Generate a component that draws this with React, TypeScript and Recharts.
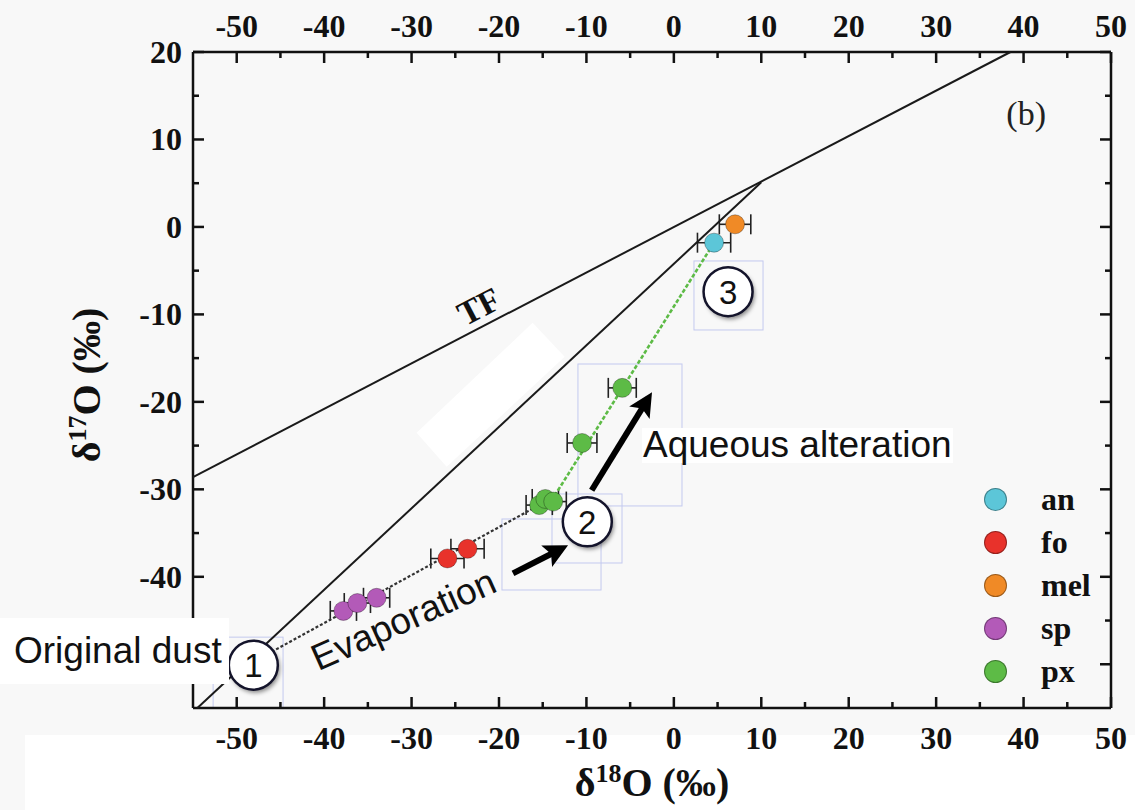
import {
  ScatterChart,
  Scatter,
  XAxis,
  YAxis,
  ErrorBar,
  ReferenceDot,
  ReferenceLine,
  Legend,
} from 'recharts';

// measured points (delta18O, delta17O, x error)
const anPts = [{ x: 4.6, y: -1.8, ex: 1.9 }];
const foPts = [
  { x: -25.9, y: -37.9, ex: 1.9 },
  { x: -23.6, y: -36.8, ex: 1.9 },
];
const melPts = [{ x: 7.0, y: 0.3, ex: 1.8 }];
const spPts = [
  { x: -37.8, y: -43.9, ex: 1.5 },
  { x: -36.2, y: -43.0, ex: 1.5 },
  { x: -34.0, y: -42.4, ex: 1.5 },
];
const pxPts = [
  { x: -15.4, y: -31.8, ex: 1.5 },
  { x: -14.7, y: -31.1, ex: 1.5 },
  { x: -13.8, y: -31.4, ex: 1.5 },
  { x: -10.5, y: -24.7, ex: 1.7 },
  { x: -5.9, y: -18.4, ex: 1.6 },
];

// reference lines and trends
const tfLine = [{ x: -55, y: -28.6 }, { x: 38.5, y: 20 }];
const ccamLine = [{ x: -54.5, y: -55 }, { x: 10, y: 5.1 }];
const evapTrend = [{ x: -47.5, y: -49.4 }, { x: -15.4, y: -31.8 }];
const alterTrend = [{ x: -14, y: -31.3 }, { x: 4.6, y: -1.8 }];

// annotation anchors
const evapArrow = [{ x: -18.4, y: -39.6 }, { x: -12.1, y: -36.4 }];
const alterArrow = [{ x: -9.4, y: -30.1 }, { x: -2.5, y: -18.9 }];
const stepBadges = [
  { n: '1', x: -48.1, y: -50.1 },
  { n: '2', x: -9.9, y: -33.7 },
  { n: '3', x: 6.2, y: -7.4 },
];

const xTicks = [-50, -45, -40, -35, -30, -25, -20, -15, -10, -5, 0, 5, 10, 15, 20, 25, 30, 35, 40, 45, 50];
const yTicks = [-50, -45, -40, -35, -30, -25, -20, -15, -10, -5, 0, 5, 10, 15, 20];

const legendNames = ['an', 'fo', 'mel', 'sp', 'px'];
const colors: Record<string, string> = {
  an: '#5cc6d8',
  fo: '#e8322b',
  mel: '#f08a26',
  sp: '#b35ab8',
  px: '#5dbb46',
};

const serif = '"Liberation Serif", "Times New Roman", serif';
const sans = '"Liberation Sans", Arial, sans-serif';
const ink = '#111';

type Side = 'top' | 'bottom' | 'left' | 'right';

function tickRenderer(side: Side) {
  return (props: any) => {
    const { x, y, payload } = props;
    const v = Number(payload.value);
    const major = v % 10 === 0;
    const len = major ? 11 : 6;
    let line;
    let label = null;
    const txt = { fontFamily: serif, fontWeight: 700, fontSize: 32, fill: ink };
    if (side === 'bottom') {
      line = <line x1={x} y1={y} x2={x} y2={y - len} />;
      if (major) label = <text x={x} y={y + 41} textAnchor="middle" {...txt}>{v}</text>;
    } else if (side === 'top') {
      line = <line x1={x} y1={y} x2={x} y2={y + len} />;
      if (major) label = <text x={x} y={y - 15} textAnchor="middle" {...txt}>{v}</text>;
    } else if (side === 'left') {
      line = <line x1={x} y1={y} x2={x + len} y2={y} />;
      // the -50 label sits under the "Original dust" box in the figure
      if (major && v !== -50) label = <text x={x - 11} y={y + 11} textAnchor="end" {...txt}>{v}</text>;
    } else {
      line = <line x1={x} y1={y} x2={x - len} y2={y} />;
    }
    return (
      <g>
        <g stroke={ink} strokeWidth={2.5}>{line}</g>
        {label}
      </g>
    );
  };
}

function YTitle(props: any) {
  const vb = props.viewBox || { x: 0, y: 52, width: 193, height: 656 };
  const x = vb.x + 100;
  const y = vb.y + vb.height / 2 + 5;
  return (
    <text
      x={x}
      y={y}
      transform={`rotate(-90, ${x}, ${y})`}
      textAnchor="middle"
      fontFamily={serif}
      fontWeight={700}
      fontSize={40}
      fill={ink}
    >
      <tspan>δ</tspan>
      <tspan dy={-14} fontSize={26}>17</tspan>
      <tspan dy={14}>O (‰)</tspan>
    </text>
  );
}

function XTitle(props: any) {
  const vb = props.viewBox || { x: 193, y: 708, width: 918, height: 102 };
  const x = vb.x + vb.width / 2;
  const y = vb.y + 88;
  return (
    <text x={x} y={y} textAnchor="middle" fontFamily={serif} fontWeight={700} fontSize={40} fill={ink}>
      <tspan>δ</tspan>
      <tspan dy={-14} fontSize={26}>18</tspan>
      <tspan dy={14}>O (‰)</tspan>
    </text>
  );
}

const dot = (fill: string) => (p: any) => (
  <circle cx={p.cx} cy={p.cy} r={9.5} fill={fill} stroke="rgba(0,0,0,0.3)" strokeWidth={1} />
);

const noDot = () => <g />;

function arrowShape(p: any) {
  const { x1, y1, x2, y2 } = p;
  const a = Math.atan2(y2 - y1, x2 - x1);
  const hl = 24;
  const hw = 12;
  const bx = x2 - hl * Math.cos(a);
  const by = y2 - hl * Math.sin(a);
  const nx = -Math.sin(a);
  const ny = Math.cos(a);
  const pts = `${x2},${y2} ${bx + nx * hw},${by + ny * hw} ${bx + 5 * Math.cos(a)},${by + 5 * Math.sin(a)} ${bx - nx * hw},${by - ny * hw}`;
  return (
    <g>
      <line x1={x1} y1={y1} x2={bx + 6 * Math.cos(a)} y2={by + 6 * Math.sin(a)} stroke="#000" strokeWidth={6} />
      <polygon points={pts} fill="#000" />
    </g>
  );
}

function badge(n: string) {
  return (p: any) => {
    const { cx, cy } = p;
    return (
      <g>
        <circle cx={cx + 2} cy={cy + 3} r={24.5} fill="rgba(0,0,0,0.45)" style={{ filter: 'blur(2px)' }} />
        <circle cx={cx} cy={cy} r={24.5} fill="#fff" stroke="#14142b" strokeWidth={2.5} />
        <text x={cx} y={cy + 12} textAnchor="middle" fontFamily={sans} fontSize={33} fill={ink}>
          {n}
        </text>
      </g>
    );
  };
}

function LegendBox() {
  return (
    <div style={{ display: 'flex', flexDirection: 'column' }}>
      {legendNames.map((name) => (
        <div key={name} style={{ display: 'flex', alignItems: 'center', height: 43 }}>
          <span
            style={{
              width: 21,
              height: 21,
              borderRadius: '50%',
              background: colors[name],
              border: '1px solid rgba(0,0,0,0.35)',
              marginLeft: 2,
            }}
          />
          <span
            style={{
              marginLeft: 34,
              fontFamily: serif,
              fontWeight: 700,
              fontSize: 32,
              color: ink,
              lineHeight: '43px',
            }}
          >
            {name}
          </span>
        </div>
      ))}
    </div>
  );
}

const axes = { xAxisId: 'b', yAxisId: 'l' };
const faintBoxes = [
  { x1: -10.97, x2: 0.93, y1: -31.9, y2: -15.67 },
  { x1: -13.94, x2: -5.93, y1: -38.42, y2: -30.53 },
  { x1: -19.66, x2: -8.33, y1: -41.51, y2: -33.39 },
  { x1: 2.3, x2: 10.2, y1: -11.78, y2: -3.89 },
  { x1: -52.7, x2: -44.7, y1: -55, y2: -46.9 },
];

export default function App() {
  return (
    <div style={{ position: 'absolute', left: 0, top: 0, width: 1135, height: 810, background: '#f8f8f8' }}>
      <div style={{ position: 'absolute', left: 25, top: 735, width: 1110, height: 75, background: '#fff' }} />
      <ScatterChart width={1135} height={810} margin={{ top: 0, right: 0, bottom: 0, left: 0 }}>
        <XAxis
          xAxisId="b"
          type="number"
          dataKey="x"
          orientation="bottom"
          domain={[-55, 50]}
          ticks={xTicks}
          interval={0}
          height={102}
          tickSize={0}
          tickMargin={0}
          tickLine={false}
          axisLine={{ stroke: ink, strokeWidth: 2.5 }}
          tick={tickRenderer('bottom')}
          label={<XTitle />}
        />
        <XAxis
          xAxisId="t"
          type="number"
          dataKey="x"
          orientation="top"
          domain={[-55, 50]}
          allowDataOverflow
          ticks={xTicks}
          interval={0}
          height={52}
          tickSize={0}
          tickMargin={0}
          tickLine={false}
          axisLine={{ stroke: ink, strokeWidth: 2.5 }}
          tick={tickRenderer('top')}
        />
        <YAxis
          yAxisId="l"
          type="number"
          dataKey="y"
          domain={[-55, 20]}
          ticks={yTicks}
          interval={0}
          width={193}
          tickSize={0}
          tickMargin={0}
          tickLine={false}
          axisLine={{ stroke: ink, strokeWidth: 2.5 }}
          tick={tickRenderer('left')}
          label={<YTitle />}
        />
        <YAxis
          yAxisId="r"
          type="number"
          dataKey="y"
          orientation="right"
          domain={[-55, 20]}
          allowDataOverflow
          ticks={yTicks}
          interval={0}
          width={24}
          tickSize={0}
          tickMargin={0}
          tickLine={false}
          axisLine={{ stroke: ink, strokeWidth: 2.5 }}
          tick={tickRenderer('right')}
        />

        <ReferenceDot
          {...axes}
          x={-21.3}
          y={-9.7}
          ifOverflow="visible"
          shape={(p: any) => (
            <polygon
              points={`${p.cx + 45},${p.cy + 11} ${p.cx + 77},${p.cy + 45} ${p.cx - 41},${p.cy + 155} ${p.cx - 71},${p.cy + 121}`}
              fill="#fff"
            />
          )}
        />
        {faintBoxes.map((b, i) => (
          <ReferenceLine
            key={i}
            {...axes}
            segment={[{ x: b.x1, y: b.y1 }, { x: b.x2, y: b.y2 }]}
            ifOverflow="visible"
            shape={(p: any) => (
              <rect
                x={Math.min(p.x1, p.x2)}
                y={Math.min(p.y1, p.y2)}
                width={Math.abs(p.x2 - p.x1)}
                height={Math.abs(p.y2 - p.y1)}
                fill="none"
                stroke="#c3c9ef"
                strokeWidth={1}
              />
            )}
          />
        ))}

        <Scatter {...axes} data={tfLine} line={{ stroke: '#1a1a1a', strokeWidth: 2 }} shape={noDot} legendType="none" isAnimationActive={false} />
        <Scatter {...axes} data={ccamLine} line={{ stroke: '#1a1a1a', strokeWidth: 2 }} shape={noDot} legendType="none" isAnimationActive={false} />
        <Scatter {...axes} data={evapTrend} line={{ stroke: '#333', strokeWidth: 2.2, strokeDasharray: '3 2' }} shape={noDot} legendType="none" isAnimationActive={false} />
        <Scatter {...axes} data={alterTrend} line={{ stroke: '#5dbb46', strokeWidth: 2.6, strokeDasharray: '4 2' }} shape={noDot} legendType="none" isAnimationActive={false} />

        <Scatter {...axes} name="sp" data={spPts} shape={dot(colors.sp)} isAnimationActive={false}>
          <ErrorBar dataKey="ex" direction="x" width={10} stroke="#222" strokeWidth={1.6} />
        </Scatter>
        <Scatter {...axes} name="fo" data={foPts} shape={dot(colors.fo)} isAnimationActive={false}>
          <ErrorBar dataKey="ex" direction="x" width={10} stroke="#222" strokeWidth={1.6} />
        </Scatter>
        <Scatter {...axes} name="px" data={pxPts} shape={dot(colors.px)} isAnimationActive={false}>
          <ErrorBar dataKey="ex" direction="x" width={10} stroke="#222" strokeWidth={1.6} />
        </Scatter>
        <Scatter {...axes} name="mel" data={melPts} shape={dot(colors.mel)} isAnimationActive={false}>
          <ErrorBar dataKey="ex" direction="x" width={10} stroke="#222" strokeWidth={1.6} />
        </Scatter>
        <Scatter {...axes} name="an" data={anPts} shape={dot(colors.an)} isAnimationActive={false}>
          <ErrorBar dataKey="ex" direction="x" width={10} stroke="#222" strokeWidth={1.6} />
        </Scatter>

        <ReferenceDot
          {...axes}
          x={-21.26}
          y={-11.06}
          ifOverflow="visible"
          shape={(p: any) => (
            <text
              x={p.cx}
              y={p.cy - 8}
              transform={`rotate(-27.5, ${p.cx}, ${p.cy})`}
              textAnchor="middle"
              fontFamily={serif}
              fontWeight={700}
              fontSize={34}
              fill={ink}
            >
              TF
            </text>
          )}
        />
        <ReferenceDot
          {...axes}
          x={40.3}
          y={12.9}
          ifOverflow="visible"
          shape={(p: any) => (
            <text x={p.cx} y={p.cy + 11} textAnchor="middle" fontFamily={serif} fontSize={34} fill="#222">
              (b)
            </text>
          )}
        />
        <ReferenceDot
          {...axes}
          x={-30.35}
          y={-46.2}
          ifOverflow="visible"
          shape={(p: any) => (
            <text
              x={p.cx}
              y={p.cy}
              transform={`rotate(-24, ${p.cx}, ${p.cy})`}
              textAnchor="middle"
              fontFamily={sans}
              fontSize={37}
              fill={ink}
            >
              Evaporation
            </text>
          )}
        />
        <ReferenceDot
          {...axes}
          x={-3.53}
          y={-26.3}
          ifOverflow="visible"
          shape={(p: any) => (
            <g>
              <rect x={p.cx - 1} y={p.cy - 29} width={311} height={35} fill="#fff" />
              <text x={p.cx} y={p.cy} fontFamily={sans} fontSize={37} fill={ink}>
                Aqueous alteration
              </text>
            </g>
          )}
        />

        <ReferenceLine {...axes} segment={evapArrow} ifOverflow="visible" shape={arrowShape} />
        <ReferenceLine {...axes} segment={alterArrow} ifOverflow="visible" shape={arrowShape} />

        {stepBadges.map((b) => (
          <ReferenceDot key={b.n} {...axes} x={b.x} y={b.y} ifOverflow="visible" shape={badge(b.n)} />
        ))}

        <Legend
          layout="vertical"
          align="center"
          verticalAlign="middle"
          wrapperStyle={{ left: 982, top: 478, width: 140 }}
          content={() => <LegendBox />}
        />
      </ScatterChart>
      <div
        style={{
          position: 'absolute',
          left: 0,
          top: 618,
          width: 229,
          height: 66,
          background: '#fff',
          fontFamily: sans,
          fontSize: 37,
          color: ink,
          lineHeight: '66px',
          paddingLeft: 14,
          boxSizing: 'border-box',
          whiteSpace: 'nowrap',
        }}
      >
        Original dust
      </div>
    </div>
  );
}
